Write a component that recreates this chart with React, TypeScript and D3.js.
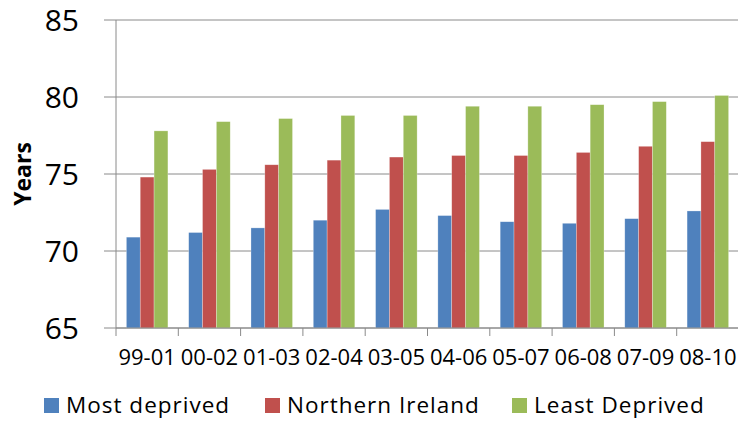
import React from "react";
import * as d3 from "d3";

const categories = ["99-01", "00-02", "01-03", "02-04", "03-05", "04-06", "05-07", "06-08", "07-09", "08-10"];
const seriesNames = ["Most deprived", "Northern Ireland", "Least Deprived"];
const mostDeprived = [70.9, 71.2, 71.5, 72.0, 72.7, 72.3, 71.9, 71.8, 72.1, 72.6];
const northernIreland = [74.8, 75.3, 75.6, 75.9, 76.1, 76.2, 76.2, 76.4, 76.8, 77.1];
const leastDeprived = [77.8, 78.4, 78.6, 78.8, 78.8, 79.4, 79.4, 79.5, 79.7, 80.1];
const yTicks = [65, 70, 75, 80, 85];
const colors = ["#4F81BD", "#C0504D", "#9BBB59"];

const W = 738;
const H = 421;
const left = 116;
const right = 739;
const top = 20;
const bottom = 328;
const FONT = "'Open Sans', 'DejaVu Sans', sans-serif";

export default function App() {
  const seriesValues = [mostDeprived, northernIreland, leastDeprived];
  const y = d3.scaleLinear().domain([65, 85]).range([bottom, top]);
  const x0 = d3.scaleBand<string>().domain(categories).range([left, right]).paddingInner(0).paddingOuter(0);
  const x1 = d3
    .scaleBand<string>()
    .domain(seriesNames)
    .range([0, x0.bandwidth()])
    .paddingInner(0)
    .paddingOuter(0.75);

  const legendX = [44, 265, 512];

  return (
    <svg width={W} height={H} style={{ position: "absolute", left: 0, top: 0, background: "#fff" }}>
      {yTicks.map((t) => (
        <line key={"g" + t} x1={left - 12} x2={right} y1={y(t)} y2={y(t)} stroke="#8a8a8a" strokeWidth={1} />
      ))}
      {seriesNames.map((s, si) =>
        categories.map((c, ci) => {
          const v = seriesValues[si][ci];
          return (
            <rect
              key={s + c}
              x={(x0(c) as number) + (x1(s) as number)}
              y={y(v)}
              width={x1.bandwidth()}
              height={y(65) - y(v)}
              fill={colors[si]}
              stroke="rgba(255,255,255,0.45)"
              strokeWidth={0.6}
            />
          );
        })
      )}
      <line x1={left} x2={left} y1={top} y2={bottom} stroke="#8a8a8a" />
      <line x1={left} x2={right} y1={bottom} y2={bottom} stroke="#8a8a8a" />
      {[...categories.map((c) => x0(c) as number), right].map((tx, i) => (
        <line key={"t" + i} x1={tx} x2={tx} y1={bottom} y2={bottom + 8} stroke="#8a8a8a" />
      ))}
      {yTicks.map((t) => (
        <text
          key={"yl" + t}
          x={79}
          y={y(t)}
          dy="0.36em"
          textAnchor="end"
          fontFamily={FONT}
          fontSize={30}
          fill="#000"
        >
          {t}
        </text>
      ))}
      {categories.map((c) => (
        <text
          key={"xl" + c}
          x={(x0(c) as number) + x0.bandwidth() / 2}
          y={365}
          textAnchor="middle"
          fontFamily={FONT}
          fontSize={22}
          fill="#000"
        >
          {c}
        </text>
      ))}
      <text
        transform={`translate(31,174) rotate(-90)`}
        textAnchor="middle"
        fontFamily={FONT}
        fontWeight="bold"
        fontSize={23}
        fill="#000"
      >
        Years
      </text>
      {seriesNames.map((s, i) => (
        <g key={"lg" + s} transform={`translate(${legendX[i]},0)`}>
          <rect x={0} y={398} width={15} height={15} fill={colors[i]} />
          <text x={22} y={413} fontFamily={FONT} fontSize={22.5} letterSpacing={1} fill="#000">
            {s}
          </text>
        </g>
      ))}
    </svg>
  );
}
